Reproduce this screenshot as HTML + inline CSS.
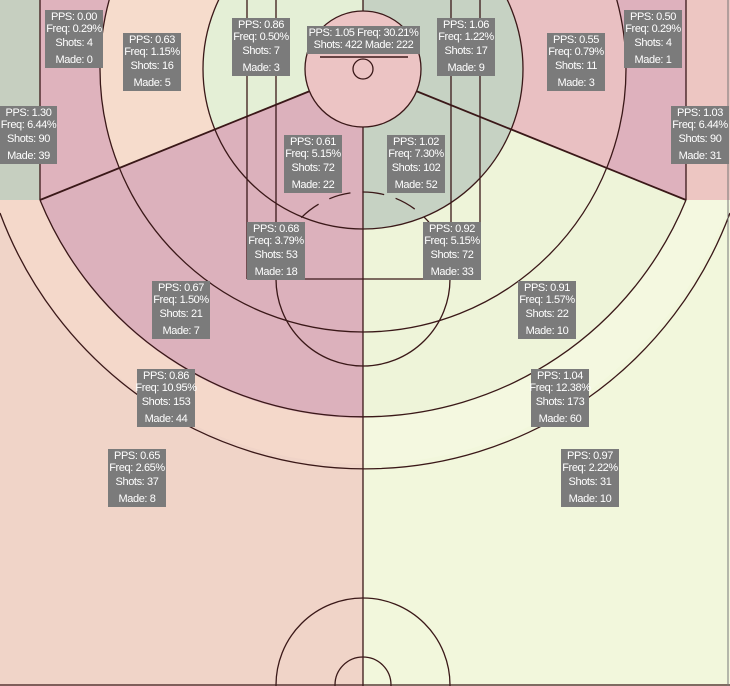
<!DOCTYPE html>
<html><head><meta charset="utf-8"><style>
html,body{margin:0;background:#fff;overflow:hidden;width:730px;height:686px}
#c{position:relative;width:730px;height:686px;overflow:hidden;font-family:"Liberation Sans",sans-serif}
svg{display:block}
.b{position:absolute;background:#7b7b7b;color:#fff;font-size:11px;text-align:center;width:58px;height:58px;white-space:nowrap;letter-spacing:-0.4px;overflow:visible}
.b div{position:absolute;left:-6px;right:-6px;line-height:12px}
</style></head><body><div id="c">
<svg width="730" height="686" style="position:absolute;left:0;top:0">
<defs>
<clipPath id="tp"><circle cx="363" cy="69" r="349"/><rect x="40" y="0" width="646" height="200"/></clipPath>
<clipPath id="ul"><polygon points="0,0 363,0 363,69 40,200 0,200"/></clipPath>
<clipPath id="ur"><polygon points="363,0 730,0 730,200 686,200 363,69"/></clipPath>
<clipPath id="lr"><polygon points="363,69 686,200 730,200 730,686 363,686"/></clipPath>
<clipPath id="lh"><rect x="0" y="0" width="363" height="686"/></clipPath>
<clipPath id="rh"><rect x="363" y="0" width="367" height="686"/></clipPath>
</defs>
<rect x="0" y="0" width="363" height="686" fill="#f0d4c8"/>
<rect x="363" y="0" width="367" height="686" fill="#f2f7dc"/>
<ellipse cx="363" cy="69" rx="390" ry="395" fill="#f4d8ca" clip-path="url(#lh)"/>
<ellipse cx="363" cy="69" rx="390" ry="395" fill="#f4f8e0" clip-path="url(#rh)"/>
<g clip-path="url(#tp)">
<rect x="0" y="0" width="363" height="686" fill="#dcb1bc"/>
<rect x="363" y="0" width="367" height="686" fill="#eef4d9"/>
<g clip-path="url(#ul)"><rect x="0" y="0" width="363" height="200" fill="#dfb3bd"/><circle cx="363" cy="69" r="263" fill="#f6dccc"/><circle cx="363" cy="69" r="160" fill="#e4efd6"/></g>
<g clip-path="url(#ur)"><rect x="363" y="0" width="367" height="200" fill="#deb1bd"/><circle cx="363" cy="69" r="263" fill="#e9c0c2"/><circle cx="363" cy="69" r="160" fill="#c6d2c3"/></g>
<g clip-path="url(#lr)"><circle cx="363" cy="69" r="160" fill="#c6d2c3"/></g>
</g>
<rect x="0" y="0" width="40" height="200" fill="#c6cfc0"/>
<rect x="686" y="0" width="44" height="200" fill="#edc6c2"/>
<g fill="none" stroke="#3a1818" stroke-width="1.3">
<circle cx="363" cy="69" r="160"/>
<circle cx="363" cy="69" r="263"/>
<path d="M40,200 A349,349 0 0 0 686,200"/>
<path d="M0,213 A390,395 0 0 0 730,213"/>
<line x1="40" y1="0" x2="40" y2="200"/><line x1="686" y1="0" x2="686" y2="200"/>
<line x1="40" y1="200" x2="310" y2="91" stroke-width="1.8"/>
<line x1="686" y1="200" x2="416" y2="91" stroke-width="1.8"/>
<line x1="247" y1="0" x2="247" y2="279"/><line x1="276" y1="0" x2="276" y2="279"/>
<line x1="451" y1="0" x2="451" y2="279"/><line x1="480" y1="0" x2="480" y2="279"/>
<line x1="247" y1="279" x2="480" y2="279"/>
<line x1="363" y1="0" x2="363" y2="686"/>
<path d="M276,279 A87,87 0 0 0 450,279"/>
<path d="M276,279 A87,87 0 0 1 450,279" stroke-dasharray="22,12"/>
<circle cx="363" cy="685" r="87"/><circle cx="363" cy="685" r="28"/>
<line x1="0" y1="685" x2="730" y2="685"/>
<line x1="728" y1="0" x2="728" y2="686" stroke="#777" stroke-width="1"/>
</g>
<circle cx="363" cy="69" r="58" fill="#ecc4c4" stroke="#3a1818" stroke-width="1.3"/>
<circle cx="363" cy="69" r="10" fill="none" stroke="#3a1818" stroke-width="1.3"/>
<line x1="320" y1="57" x2="408" y2="57" stroke="#3a1818" stroke-width="1.5"/>
</svg>
<div class="b" style="left:307px;top:26px;width:113px;height:28px"><div style="top:1px">PPS: 1.05 Freq: 30.21%</div><div style="top:13px">Shots: 422 Made: 222</div></div>
<div class="b" style="left:45px;top:10px"><div style="top:1px">PPS: 0.00</div><div style="top:13px">Freq: 0.29%</div><div style="top:27px">Shots: 4</div><div style="top:44px">Made: 0</div></div>
<div class="b" style="left:123px;top:33px"><div style="top:1px">PPS: 0.63</div><div style="top:13px">Freq: 1.15%</div><div style="top:27px">Shots: 16</div><div style="top:44px">Made: 5</div></div>
<div class="b" style="left:232px;top:18px"><div style="top:1px">PPS: 0.86</div><div style="top:13px">Freq: 0.50%</div><div style="top:27px">Shots: 7</div><div style="top:44px">Made: 3</div></div>
<div class="b" style="left:437px;top:18px"><div style="top:1px">PPS: 1.06</div><div style="top:13px">Freq: 1.22%</div><div style="top:27px">Shots: 17</div><div style="top:44px">Made: 9</div></div>
<div class="b" style="left:547px;top:33px"><div style="top:1px">PPS: 0.55</div><div style="top:13px">Freq: 0.79%</div><div style="top:27px">Shots: 11</div><div style="top:44px">Made: 3</div></div>
<div class="b" style="left:624px;top:10px"><div style="top:1px">PPS: 0.50</div><div style="top:13px">Freq: 0.29%</div><div style="top:27px">Shots: 4</div><div style="top:44px">Made: 1</div></div>
<div class="b" style="left:0px;top:106px;width:57px"><div style="top:1px">PPS: 1.30</div><div style="top:13px">Freq: 6.44%</div><div style="top:27px">Shots: 90</div><div style="top:44px">Made: 39</div></div>
<div class="b" style="left:671px;top:106px"><div style="top:1px">PPS: 1.03</div><div style="top:13px">Freq: 6.44%</div><div style="top:27px">Shots: 90</div><div style="top:44px">Made: 31</div></div>
<div class="b" style="left:284px;top:135px"><div style="top:1px">PPS: 0.61</div><div style="top:13px">Freq: 5.15%</div><div style="top:27px">Shots: 72</div><div style="top:44px">Made: 22</div></div>
<div class="b" style="left:387px;top:135px"><div style="top:1px">PPS: 1.02</div><div style="top:13px">Freq: 7.30%</div><div style="top:27px">Shots: 102</div><div style="top:44px">Made: 52</div></div>
<div class="b" style="left:247px;top:222px"><div style="top:1px">PPS: 0.68</div><div style="top:13px">Freq: 3.79%</div><div style="top:27px">Shots: 53</div><div style="top:44px">Made: 18</div></div>
<div class="b" style="left:423px;top:222px"><div style="top:1px">PPS: 0.92</div><div style="top:13px">Freq: 5.15%</div><div style="top:27px">Shots: 72</div><div style="top:44px">Made: 33</div></div>
<div class="b" style="left:152px;top:281px"><div style="top:1px">PPS: 0.67</div><div style="top:13px">Freq: 1.50%</div><div style="top:27px">Shots: 21</div><div style="top:44px">Made: 7</div></div>
<div class="b" style="left:518px;top:281px"><div style="top:1px">PPS: 0.91</div><div style="top:13px">Freq: 1.57%</div><div style="top:27px">Shots: 22</div><div style="top:44px">Made: 10</div></div>
<div class="b" style="left:137px;top:369px"><div style="top:1px">PPS: 0.86</div><div style="top:13px">Freq: 10.95%</div><div style="top:27px">Shots: 153</div><div style="top:44px">Made: 44</div></div>
<div class="b" style="left:531px;top:369px"><div style="top:1px">PPS: 1.04</div><div style="top:13px">Freq: 12.38%</div><div style="top:27px">Shots: 173</div><div style="top:44px">Made: 60</div></div>
<div class="b" style="left:108px;top:449px"><div style="top:1px">PPS: 0.65</div><div style="top:13px">Freq: 2.65%</div><div style="top:27px">Shots: 37</div><div style="top:44px">Made: 8</div></div>
<div class="b" style="left:561px;top:449px"><div style="top:1px">PPS: 0.97</div><div style="top:13px">Freq: 2.22%</div><div style="top:27px">Shots: 31</div><div style="top:44px">Made: 10</div></div>
</div></body></html>
